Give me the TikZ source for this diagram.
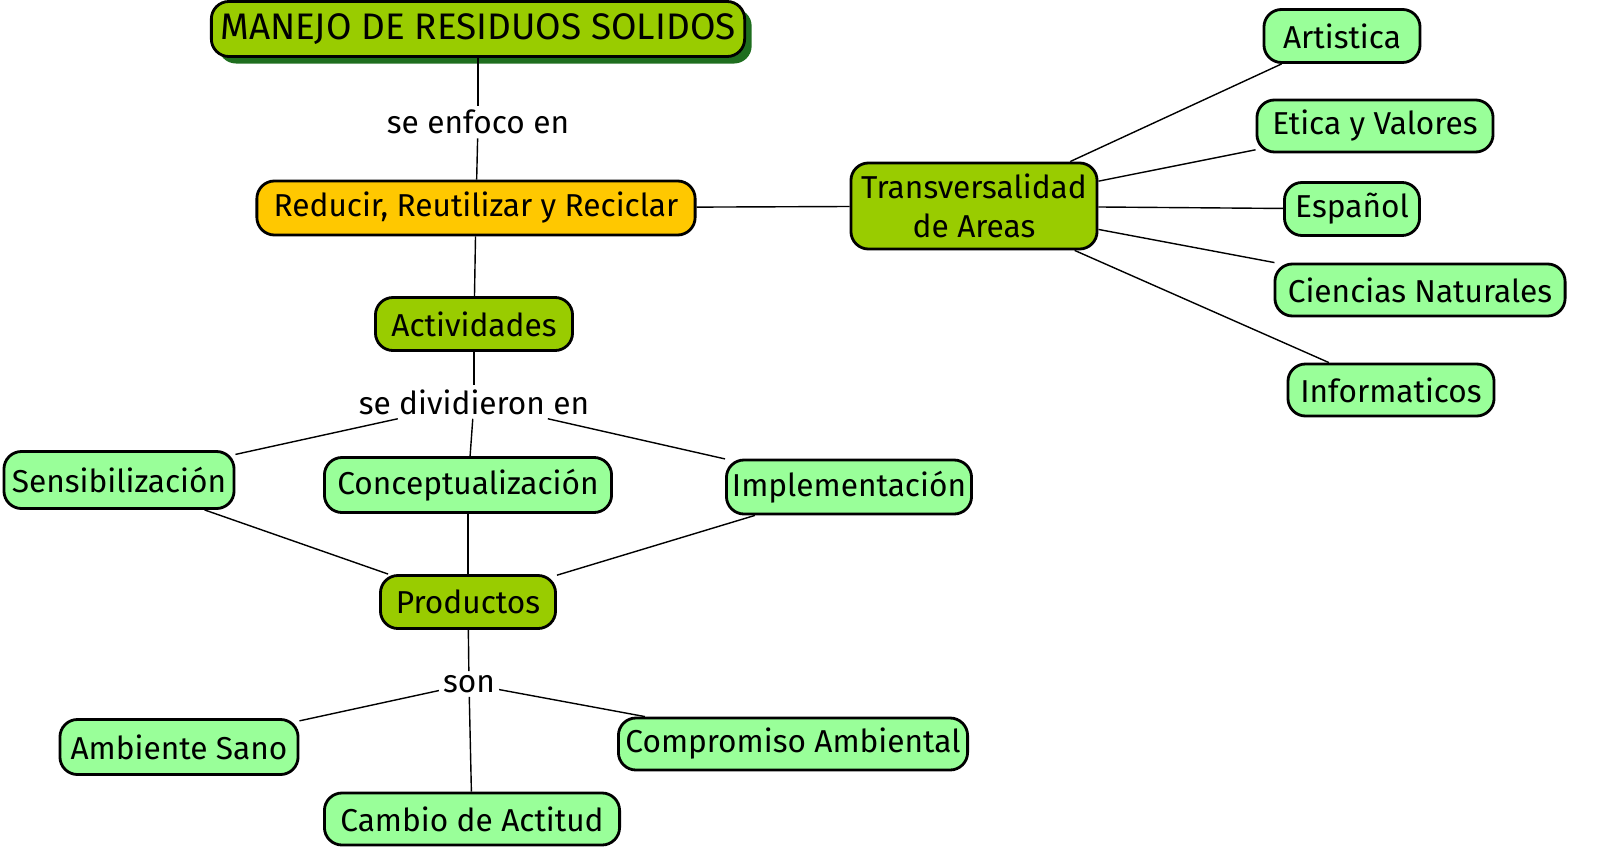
\documentclass[tikz,border=0pt]{standalone}
\usepackage{fontspec}
\setmainfont{Fira Sans}
\usetikzlibrary{shadows}

\definecolor{darkbox}{HTML}{99CC00}
\definecolor{lightbox}{HTML}{99FF99}
\definecolor{yellowbox}{HTML}{FFC800}
\definecolor{shadowgreen}{HTML}{1E6E1E}

\tikzset{
  box/.style={draw,rounded corners=5pt,thick,inner sep=0pt,align=center,font=\fontsize{9}{11}\selectfont},
  topic/.style={box,fill=darkbox},
  item/.style={box,fill=lightbox},
  linklabel/.style={font=\fontsize{9}{11}\selectfont,inner sep=1pt},
}

\begin{document}
\begin{tikzpicture}[x=0.01cm,y=-0.01cm]
  \useasboundingbox (0,0) rectangle (1600,867);

  \node [topic,minimum width=5.33cm,minimum height=0.55cm,font=\fontsize{10.5}{12}\selectfont,
         drop shadow={shadow xshift=0.07cm,shadow yshift=-0.07cm,fill=shadowgreen,opacity=1}]
         (title) at (478,29) {MANEJO DE RESIDUOS SOLIDOS};
  \node [box,fill=yellowbox,minimum width=4.38cm,minimum height=0.54cm] (rrr) at (476,208) {Reducir, Reutilizar y Reciclar};
  \node [topic,minimum width=2.46cm,minimum height=0.86cm] (trans) at (974,206) {Transversalidad\\de Areas};
  \node [topic,minimum width=1.97cm,minimum height=0.53cm] (act) at (474,324) {Actividades};
  \node [item,minimum width=2.30cm,minimum height=0.57cm] (sens) at (119,480) {Sensibilización};
  \node [item,minimum width=2.87cm,minimum height=0.55cm] (conc) at (468,485) {Conceptualización};
  \node [item,minimum width=2.45cm,minimum height=0.54cm] (impl) at (849,487) {Implementación};
  \node [topic,minimum width=1.75cm,minimum height=0.53cm] (prod) at (468,602) {Productos};
  \node [item,minimum width=2.38cm,minimum height=0.55cm] (amb) at (179,747) {Ambiente Sano};
  \node [item,minimum width=2.95cm,minimum height=0.52cm] (camb) at (472,819) {Cambio de Actitud};
  \node [item,minimum width=3.49cm,minimum height=0.52cm] (comp) at (793,744) {Compromiso Ambiental};

  \node [item,minimum width=1.56cm,minimum height=0.53cm] (art) at (1342,36) {Artistica};
  \node [item,minimum width=2.36cm,minimum height=0.52cm] (etica) at (1375,126) {Etica y Valores};
  \node [item,minimum width=1.35cm,minimum height=0.53cm] (esp) at (1352,209) {Español};
  \node [item,minimum width=2.90cm,minimum height=0.52cm] (cien) at (1420,290) {Ciencias Naturales};
  \node [item,minimum width=2.06cm,minimum height=0.52cm] (info) at (1391,390) {Informaticos};

  \node [linklabel] (enfoco) at (478,122) {se enfoco en};
  \node [linklabel] (divid) at (474,402) {se dividieron en};
  \node [linklabel] (son) at (469,684) {son};

  \path [draw]
    (title)  edge (enfoco)
    (enfoco) edge (rrr)
    (rrr)    edge (act)
    (rrr)    edge (trans)
    (act)    edge (divid)
    (divid)  edge (sens)
    (divid)  edge (conc)
    (divid)  edge (impl)
    (sens)   edge (prod)
    (conc)   edge (prod)
    (impl)   edge (prod)
    (prod)   edge (son)
    (son)    edge (amb)
    (son)    edge (camb)
    (son)    edge (comp);

  \path [draw]
    (trans) edge (art)
    (trans) edge (etica)
    (trans) edge (esp)
    (trans) edge (cien)
    (trans) edge (info);

\end{tikzpicture}
\end{document}
